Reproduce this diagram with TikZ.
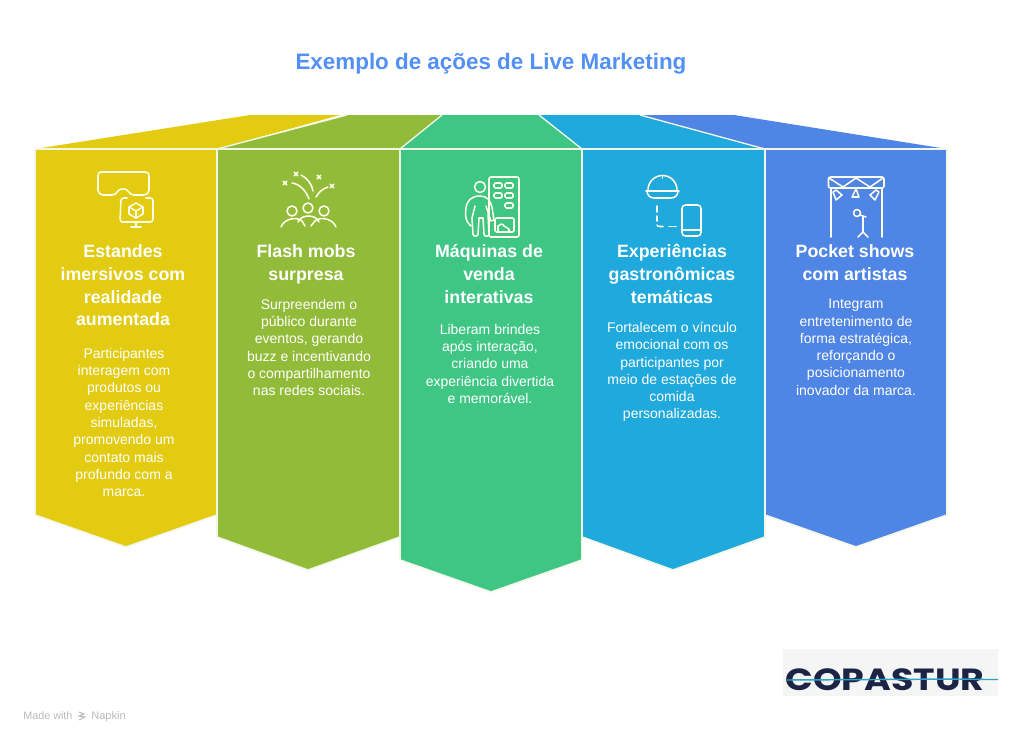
\documentclass[tikz,border=0pt]{standalone}
\usepackage{fontspec}
\setmainfont{Liberation Sans}
\newfontfamily\logofont{Poppins}
\definecolor{cyellow}{HTML}{E2CB10}
\definecolor{cgreen}{HTML}{92BB3A}
\definecolor{cteal}{HTML}{3FC685}
\definecolor{cblue}{HTML}{1FA9DC}
\definecolor{cpurple}{HTML}{4F85E4}
\definecolor{ctitle}{HTML}{5390F5}
\definecolor{cnavy}{HTML}{1C2345}
\definecolor{cline}{HTML}{2AA5C4}
\definecolor{cedge}{HTML}{F2F8E8}
\tikzset{
  panel/.style={draw=cedge,line width=1.2pt,line join=miter},
  icon/.style={draw=white!92!yellow,line width=1.15pt,line cap=round,line join=round},
  headtext/.style={text=white,anchor=north,align=center,inner sep=0pt,font=\fontsize{13.35}{17.2}\selectfont\bfseries},
  bodytext/.style={text=white,anchor=north,align=center,inner sep=0pt,font=\fontsize{10.5}{12.95}\selectfont}
}
\begin{document}
\begin{tikzpicture}[x=0.75pt,y=-0.75pt]
\useasboundingbox (0,0) rectangle (1024,743);
\node[text=ctitle,inner sep=0pt,font=\fontsize{16.8}{20}\selectfont\bfseries] (title) at (491,64) {Exemplo de ações de Live Marketing};
% roofs
\fill[cyellow] (35,149) -- (250,115) -- (340,115) -- (217,149) -- cycle;
\fill[cpurple] (765,149) -- (640,115) -- (734,115) -- (947,149) -- cycle;
\fill[cgreen] (217,149) -- (347,115) -- (445,115) -- (400,149) -- cycle;
\fill[cblue] (582,149) -- (535,115) -- (640,115) -- (765,149) -- cycle;
\fill[cteal] (400,149) -- (442,115) -- (539,115) -- (582,149) -- cycle;
\draw[cedge,line width=1pt] (217,149) -- (347,115);
\draw[cedge,line width=1pt] (400,149) -- (442,115);
\draw[cedge,line width=1pt] (582,149) -- (539,115);
\draw[cedge,line width=1pt] (765,149) -- (640,115);
% panels
\path[fill=cyellow,panel] (35,149) -- (217,149) -- (217,515) -- (126,547) -- (35,515) -- cycle;
\path[fill=cgreen,panel] (217,149) -- (400,149) -- (400,537) -- (308,570) -- (217,537) -- cycle;
\path[fill=cblue,panel] (582,149) -- (765,149) -- (765,537) -- (673,570) -- (582,537) -- cycle;
\path[fill=cpurple,panel] (765,149) -- (947,149) -- (947,515) -- (856,547) -- (765,515) -- cycle;
\path[fill=cteal,panel] (400,149) -- (582,149) -- (582,560) -- (491,592) -- (400,560) -- cycle;
% texts
\node[headtext] (h1) at (123,244) {Estandes\\imersivos com\\realidade\\aumentada};
\node[bodytext] (b1) at (124,348) {Participantes\\interagem com\\produtos ou\\experiências\\simuladas,\\promovendo um\\contato mais\\profundo com a\\marca.};
\node[headtext] (h2) at (306,244) {Flash mobs\\surpresa};
\node[bodytext] (b2) at (309,299) {Surpreendem o\\público durante\\eventos, gerando\\buzz e incentivando\\o compartilhamento\\nas redes sociais.};
\node[headtext] (h3) at (489,244) {Máquinas de\\venda\\interativas};
\node[bodytext] (b3) at (490,324) {Liberam brindes\\após interação,\\criando uma\\experiência divertida\\e memorável.};
\node[headtext] (h4) at (672,244) {Experiências\\gastronômicas\\temáticas};
\node[bodytext] (b4) at (672,322) {Fortalecem o vínculo\\emocional com os\\participantes por\\meio de estações de\\comida\\personalizadas.};
\node[headtext] (h5) at (855,244) {Pocket shows\\com artistas};
\node[bodytext] (b5) at (856,299) {Integram\\entretenimento de\\forma estratégica,\\reforçando o\\posicionamento\\inovador da marca.};
% icon 1
\draw[icon] (101,172) -- (145,172) .. controls (148,172) and (149,173) .. (149,176) -- (149,190) .. controls (149,193) and (147,195) .. (144,195) -- (134,195) .. controls (128,195) and (130,189) .. (123,189) .. controls (116,189) and (118,195) .. (112,195) -- (103,195) .. controls (100,195) and (98,193) .. (98,190) -- (98,176) .. controls (98,173) and (99,172) .. (101,172) -- cycle;
\draw[icon,rounded corners=2pt] (127,198) -- (121,198) -- (120,222) -- (153,222) -- (153,198) -- (146,198);
\draw[icon] (136,222) -- (136,227) (131,227) -- (141,227);
\draw[icon] (136,203) -- (143,207) -- (143,214) -- (136,218) -- (129,214) -- (129,207) -- cycle;
\draw[icon] (129,207) -- (136,211) -- (143,207) (136,211) -- (136,218);
% icon 2
\foreach \cx/\cy in {292/211,308/208,324/211}{\draw[icon] (\cx,\cy) circle (5);}
\draw[icon] (281,227) .. controls (284,219) and (296,216) .. (302,221) -- (305,226);
\draw[icon] (298,222) .. controls (301,214) and (316,214) .. (319,222);
\draw[icon] (311,226) -- (315,221) .. controls (321,216) and (333,219) .. (336,227);
\draw[icon] (292,183) .. controls (300,184) and (306,191) .. (309,199);
\draw[icon] (301,175) .. controls (307,178) and (312,184) .. (313,191);
\draw[icon] (316,197) .. controls (319,192) and (322,189) .. (328,187);
\foreach \cx/\cy in {285/183,296/174,319/177,332/186}{
  \draw[icon] (\cx-1.8,\cy-1.8) -- (\cx+1.8,\cy+1.8) (\cx-1.8,\cy+1.8) -- (\cx+1.8,\cy-1.8);}
% icon 3
\draw[icon,rounded corners=1.5pt] (489,177) rectangle (519,237);
\foreach \bx/\by in {494/183,505/183,494/193,505/193,505/203}{
  \draw[icon,rounded corners=1pt] (\bx,\by) rectangle ++(8,5);}
\draw[icon,rounded corners=1pt] (495,218) rectangle (514,232);
\draw[icon] (498,232) -- (498,226) .. controls (500,224) and (503,223) .. (504,226) -- (509,229) -- (509,232);
\draw[icon] (480,187) circle (5.5);
\draw[icon] (471,226) .. controls (465,222) and (465,214) .. (466,208) .. controls (467,200) and (472,196) .. (480,196) .. controls (487,196) and (490,200) .. (492,207) -- (494,220) -- (491,221) -- (486,206);
\draw[icon] (475,206) -- (472,218) -- (473,234) .. controls (473,237) and (478,237) .. (478,234) -- (479,218) -- (483,218) -- (484,234) .. controls (484,237) and (489,237) .. (489,234) -- (488,214);
% icon 4
\draw[icon] (648,190) arc[start angle=180,end angle=360,radius=14.5];
\draw[icon] (662.5,175.5) -- (662.5,178);
\draw[icon] (646,191) -- (679,191);
\draw[icon] (647,191) .. controls (647,195) and (650,198) .. (654,198) -- (671,198) .. controls (675,198) and (678,195) .. (678,191);
\draw[icon] (657,206) -- (657,212) (657,216) -- (657,221);
\draw[icon] (657,225) .. controls (657,226) and (658,226.5) .. (660,226.5) -- (663,226.5);
\draw[icon] (669,226.5) -- (676,226.5);
\draw[icon,rounded corners=2.5pt] (682,205) rectangle (701,236);
\draw[icon] (682,230) -- (701,230);
% icon 5
\draw[icon,rounded corners=1.5pt] (828.5,177) rectangle (884,188);
\draw[icon] (829,178) -- (843,187) -- (856,178) -- (870,187) -- (883,178);
\draw[icon] (831,188) -- (831,237) (882,188) -- (882,237);
\draw[icon] (836,190) -- (842,195) -- (836,200) -- (833,192) -- cycle;
\draw[icon] (856,189) -- (859,197) -- (852,197) -- cycle;
\draw[icon] (876,190) -- (879,192) -- (875,200) -- (870,195) -- cycle;
\draw[icon] (857,213) circle (3.5);
\draw[icon] (860,215) -- (866,217) (863,217) -- (863,232) (858,237) -- (863,232) -- (868,237);
% logo
\fill[black!4] (783,649) rectangle (998,696);
\node[inner sep=0pt,text=cnavy] (logo) at (885,680) {\scalebox{1.07}[0.9]{\logofont\bfseries\fontsize{25.5}{26}\selectfont COPASTUR}};
\draw[cline,line width=1.1pt] (787,680) -- (960,679) -- (985,679.5) -- (998,679.5);
% footer
\node[anchor=base west,inner sep=0pt,text=black!27,font=\fontsize{8.1}{9}\selectfont] (made) at (23,719) {Made with};
\node[anchor=base west,inner sep=0pt,text=black!27,font=\fontsize{8.3}{9}\selectfont] (napkin) at (91,719) {Napkin};
\draw[black!27,line width=0.8pt] (79,712) -- (84,714) -- (79,716) -- (85,717) -- (79,720);
\end{tikzpicture}
\end{document}
